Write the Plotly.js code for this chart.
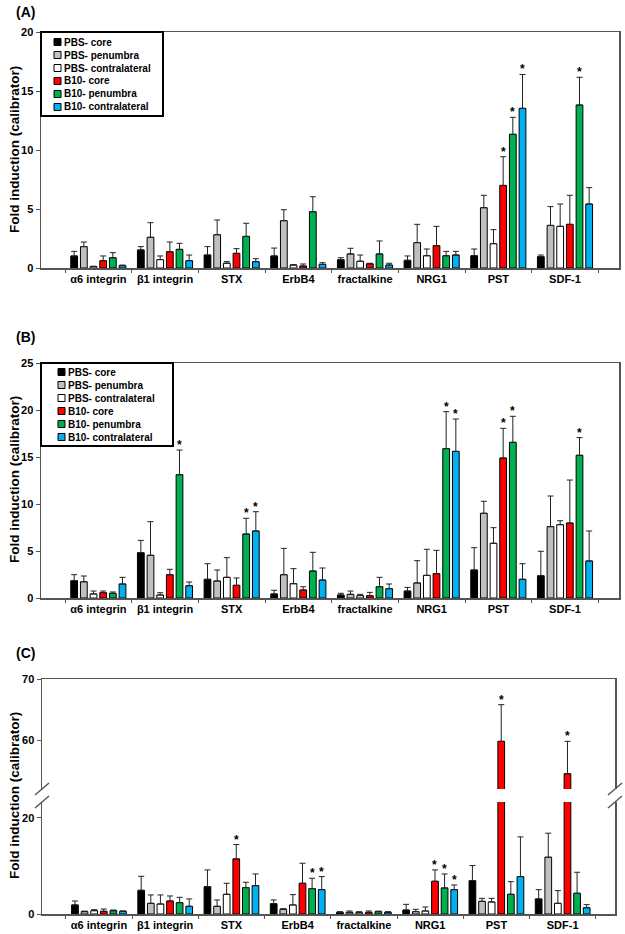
<!DOCTYPE html>
<html>
<head>
<meta charset="utf-8">
<script src="https://cdn.plot.ly/plotly-3.0.1.min.js"></script>
<style>html,body{margin:0;padding:0;background:#fff;}#chart{width:625px;height:934px;}</style>
</head>
<body>
<div id="chart"></div>
<script>
// ---------- DATA ----------
const categories = ['α6 integrin', 'β1 integrin', 'STX', 'ErbB4', 'fractalkine', 'NRG1', 'PST', 'SDF-1'];
const seriesNames = ['PBS- core', 'PBS- penumbra', 'PBS- contralateral', 'B10- core', 'B10- penumbra', 'B10- contralateral'];

// Panel A
const A_pbsCore      = [1.02, 1.53, 1.10, 1.02, 0.70, 0.65, 1.04, 0.96];
const A_pbsCoreErr   = [0.39, 0.28, 0.71, 0.67, 0.17, 0.37, 0.57, 0.14];
const A_pbsPen       = [1.81, 2.60, 2.82, 4.01, 1.19, 2.15, 5.11, 3.61];
const A_pbsPenErr    = [0.39, 1.24, 1.25, 0.93, 0.48, 1.55, 1.05, 1.59];
const A_pbsContra    = [0.12, 0.71, 0.40, 0.25, 0.57, 1.04, 2.06, 3.53];
const A_pbsContraErr = [0.03, 0.31, 0.14, 0.03, 0.53, 0.57, 1.19, 1.89];
const A_b10Core      = [0.62, 1.38, 1.24, 0.17, 0.35, 1.89, 7.00, 3.70];
const A_b10CoreErr   = [0.40, 0.82, 0.40, 0.17, 0.05, 1.64, 2.43, 2.46];
const A_b10Pen       = [0.87, 1.58, 2.68, 4.77, 1.19, 1.04, 11.33, 13.81];
const A_b10PenErr    = [0.43, 0.51, 1.11, 1.27, 1.10, 0.37, 1.44, 2.35];
const A_b10Contra    = [0.20, 0.62, 0.54, 0.31, 0.25, 1.10, 13.53, 5.42];
const A_b10ContraErr = [0.05, 0.48, 0.25, 0.14, 0.15, 0.31, 2.87, 1.39];
const A_stars = [[6, 3], [6, 4], [6, 5], [7, 4]]; // [category index, series index]

// Panel B
const B_pbsCore      = [1.84, 4.82, 1.99, 0.43, 0.32, 0.74, 2.98, 2.37];
const B_pbsCoreErr   = [0.64, 1.31, 1.66, 0.39, 0.18, 0.39, 2.37, 2.60];
const B_pbsPen       = [1.73, 4.54, 1.81, 2.48, 0.39, 1.60, 9.01, 7.59];
const B_pbsPenErr    = [0.61, 3.58, 1.17, 2.80, 0.35, 2.37, 1.28, 3.26];
const B_pbsContra    = [0.43, 0.32, 2.20, 1.52, 0.25, 2.41, 5.82, 7.80];
const B_pbsContraErr = [0.31, 0.24, 2.09, 1.60, 0.14, 2.77, 1.66, 0.42];
const B_b10Core      = [0.57, 2.48, 1.35, 0.85, 0.25, 2.59, 14.89, 7.98];
const B_b10CoreErr   = [0.17, 0.57, 0.78, 0.35, 0.35, 2.48, 3.16, 4.57];
const B_b10Pen       = [0.50, 13.12, 6.81, 2.87, 1.20, 15.89, 16.56, 15.18];
const B_b10PenErr    = [0.14, 2.62, 1.67, 1.99, 1.00, 3.93, 2.77, 1.88];
const B_b10Contra    = [1.49, 1.31, 7.13, 1.91, 0.99, 15.60, 1.99, 3.94];
const B_b10ContraErr = [0.71, 0.39, 2.05, 1.28, 0.50, 3.44, 1.66, 3.19];
const B_stars = [[1, 4], [2, 4], [2, 5], [5, 4], [5, 5], [6, 3], [6, 4], [7, 4]];

// Panel C (broken axis)
const C_pbsCore      = [1.88, 4.93, 5.69, 2.15, 0.35, 0.83, 6.94, 3.13];
const C_pbsCoreErr   = [0.82, 2.92, 3.48, 0.77, 0.14, 1.18, 3.13, 1.94];
const C_pbsPen       = [0.49, 2.22, 1.60, 0.97, 0.35, 0.49, 2.64, 11.81];
const C_pbsPenErr    = [0.11, 1.74, 1.32, 0.14, 0.28, 0.48, 0.62, 5.00];
const C_pbsContra    = [0.69, 2.08, 4.10, 1.88, 0.28, 0.63, 2.50, 2.22];
const C_pbsContraErr = [0.21, 1.88, 2.29, 2.15, 0.21, 0.83, 0.76, 2.64];
const C_b10Core      = [0.56, 2.71, 11.46, 6.39, 0.35, 6.81, 59.8, 54.5];
const C_b10CoreErr   = [0.48, 1.04, 2.98, 4.17, 0.28, 2.36, 6.0, 5.3];
const C_b10Pen       = [0.69, 2.36, 5.49, 5.28, 0.49, 5.42, 4.10, 4.31];
const C_b10PenErr    = [0.14, 1.11, 1.11, 2.15, 0.11, 2.91, 2.63, 4.37];
const C_b10Contra    = [0.56, 1.60, 5.90, 5.07, 0.35, 5.07, 7.78, 1.31];
const C_b10ContraErr = [0.07, 1.53, 2.43, 2.71, 0.14, 0.97, 8.26, 0.63];
const C_stars = [[2, 3], [3, 4], [3, 5], [5, 3], [5, 4], [5, 5], [6, 3], [7, 3]];

const yTitle = 'Fold induction (calibrator)';
const panelLabels = ['(A)', '(B)', '(C)'];

// ---------- STYLE ----------
const colors = ['#000000', '#c0c0c0', '#ffffff', '#ff0000', '#00b050', '#00b0f0'];
const FONT = 'Liberation Sans, Arial, sans-serif';
const W = 625, H = 934;
const AXC = '#555555';
const BARGAP = 0.13, GROUPGAP = 0.3;
const py = p => 1 - p / H;   // pixel row -> paper y
const px = p => p / W;       // pixel col -> paper x

const panelA = {vals: [A_pbsCore, A_pbsPen, A_pbsContra, A_b10Core, A_b10Pen, A_b10Contra],
                errs: [A_pbsCoreErr, A_pbsPenErr, A_pbsContraErr, A_b10CoreErr, A_b10PenErr, A_b10ContraErr]};
const panelB = {vals: [B_pbsCore, B_pbsPen, B_pbsContra, B_b10Core, B_b10Pen, B_b10Contra],
                errs: [B_pbsCoreErr, B_pbsPenErr, B_pbsContraErr, B_b10CoreErr, B_b10PenErr, B_b10ContraErr]};
const panelC = {vals: [C_pbsCore, C_pbsPen, C_pbsContra, C_b10Core, C_b10Pen, C_b10Contra],
                errs: [C_pbsCoreErr, C_pbsPenErr, C_pbsContraErr, C_b10CoreErr, C_b10PenErr, C_b10ContraErr]};

const traces = [];
function addBars(panel, xa, ya) {
  panel.vals.forEach((v, j) => {
    traces.push({
      type: 'bar', x: categories, y: v, name: seriesNames[j],
      xaxis: xa, yaxis: ya, showlegend: false,
      marker: {color: colors[j], line: {color: '#000', width: 1}},
      error_y: {type: 'data', symmetric: false, array: panel.errs[j],
                arrayminus: v.map(() => 0), color: '#222', thickness: 1, width: 3},
      hoverinfo: 'skip'
    });
  });
}
addBars(panelA, 'x', 'y');
addBars(panelB, 'x2', 'y2');
addBars(panelC, 'x3', 'y3');
addBars(panelC, 'x4', 'y4');

const slot = (1 - BARGAP) / seriesNames.length;
const annotations = [];
const shapes = [];
function addStars(panel, stars, xa, yaFn) {
  stars.forEach(([i, j]) => {
    const top = panel.vals[j][i] + panel.errs[j][i];
    annotations.push({
      xref: xa, yref: yaFn(top), x: i + (j - (seriesNames.length - 1) / 2) * slot, y: top,
      text: '*', showarrow: false, yanchor: 'bottom', yshift: -4,
      font: {family: FONT, size: 12, color: '#000', weight: 'bold'}
    });
  });
}
const C_lowMax = 23.3;
addStars(panelA, A_stars, 'x', () => 'y');
addStars(panelB, B_stars, 'x2', () => 'y2');
addStars(panelC, C_stars, 'x3', t => (t > C_lowMax ? 'y4' : 'y3'));

// panel labels
[[12, 14], [337, 14], [653, 14]].forEach(([yy, xx], k) => {
  annotations.push({xref: 'paper', yref: 'paper', x: px(xx), y: py(yy), xanchor: 'left', yanchor: 'middle',
    text: panelLabels[k], showarrow: false, font: {family: FONT, size: 14, color: '#000', weight: 'bold'}});
});
// y titles
[150, 480, 796].forEach(yy => {
  annotations.push({xref: 'paper', yref: 'paper', x: px(14), y: py(yy), xanchor: 'center', yanchor: 'middle',
    text: yTitle, textangle: -90, showarrow: false, font: {family: FONT, size: 13.5, color: '#000', weight: 'bold'}});
});

// legends (box + swatches + labels)
function addLegend(left, top, right, bottom, rowStart, rowStep, swX, textX) {
  shapes.push({type: 'rect', xref: 'paper', yref: 'paper', x0: px(left), x1: px(right), y0: py(bottom), y1: py(top),
    line: {color: '#000', width: 2}, fillcolor: '#fff'});
  seriesNames.forEach((nm, k) => {
    const ry = rowStart + k * rowStep;
    shapes.push({type: 'rect', xref: 'paper', yref: 'paper', x0: px(swX), x1: px(swX + 7), y0: py(ry + 3.5), y1: py(ry - 3.5),
      line: {color: '#000', width: 1}, fillcolor: colors[k]});
    annotations.push({xref: 'paper', yref: 'paper', x: px(textX), y: py(ry), xanchor: 'left', yanchor: 'middle',
      text: nm, showarrow: false, borderpad: 0, font: {family: FONT, size: 10, color: '#000', weight: 'bold'}});
  });
}
addLegend(41, 32, 163, 116, 42, 13, 54, 63);
addLegend(41, 363, 173, 446, 372, 13, 58, 67);

const tickFont = {family: FONT, size: 11, color: '#000', weight: 'bold'};
function xAxis(dom, rng, extra) {
  return Object.assign({type: 'category', domain: dom, range: rng, showline: true, linecolor: AXC, linewidth: 1.5,
    ticks: 'outside', tickson: 'boundaries', ticklen: 3, tickcolor: AXC, tickwidth: 1,
    showgrid: false, zeroline: false, tickfont: tickFont, fixedrange: true}, extra || {});
}
function yAxis(dom, rng, extra) {
  return Object.assign({domain: dom, range: rng, showline: true, linecolor: AXC, linewidth: 1.5, mirror: true,
    ticks: 'outside', ticklen: 4, tickcolor: AXC, tickwidth: 1, showgrid: false, zeroline: false,
    tickfont: tickFont, fixedrange: true}, extra || {});
}
const xdomAB = [px(41), px(619)], xdomC = [px(42), px(615)];

// break marks
[42, 615].forEach(xx => {
  [789, 802].forEach(yy => {
    shapes.push({type: 'line', xref: 'paper', yref: 'paper', x0: px(xx - 7), y0: py(yy + 6), x1: px(xx + 7), y1: py(yy - 6),
      line: {color: AXC, width: 1.5}});
  });
});

const layout = {
  width: W, height: H, margin: {l: 0, r: 0, t: 0, b: 0}, paper_bgcolor: '#fff', plot_bgcolor: 'rgba(0,0,0,0)',
  barmode: 'group', bargap: BARGAP, bargroupgap: GROUPGAP, hovermode: false, showlegend: false,
  font: {family: FONT, color: '#000'},
  xaxis: xAxis(xdomAB, [-0.86, 7.81], {anchor: 'y', mirror: true}),
  yaxis: yAxis([py(268), py(32)], [0, 20], {anchor: 'x', dtick: 5}),
  xaxis2: xAxis(xdomAB, [-0.86, 7.81], {anchor: 'y2', mirror: true}),
  yaxis2: yAxis([py(598), py(363)], [0, 25], {anchor: 'x2', dtick: 5}),
  xaxis3: xAxis(xdomC, [-0.86, 7.79], {anchor: 'y3'}),
  yaxis3: yAxis([py(914), py(802)], [0, C_lowMax], {anchor: 'x3', tickvals: [0, 20]}),
  xaxis4: xAxis(xdomC, [-0.86, 7.79], {anchor: 'y4', matches: 'x3', side: 'top', showticklabels: false, ticks: ''}),
  yaxis4: yAxis([py(789), py(679)], [52, 70], {anchor: 'x4', tickvals: [60, 70]}),
  annotations: annotations, shapes: shapes
};

Plotly.newPlot('chart', traces, layout, {displayModeBar: false, staticPlot: true});
</script>
</body>
</html>
